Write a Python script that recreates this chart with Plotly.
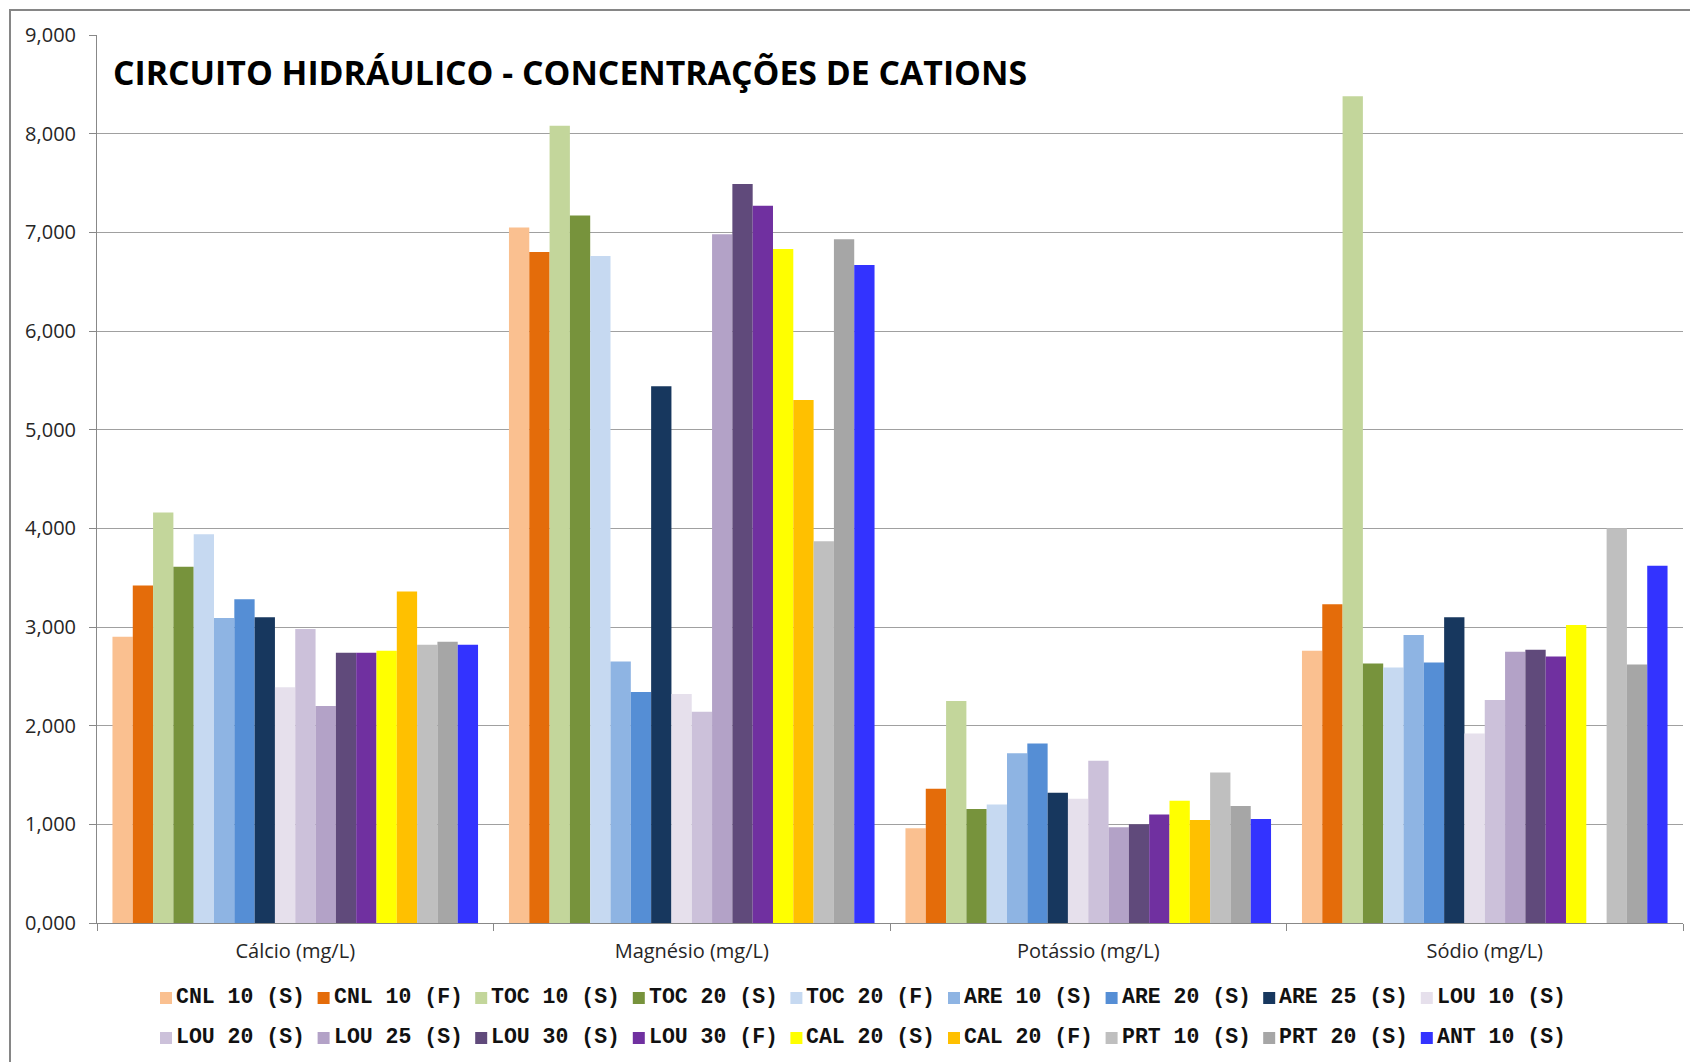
import plotly.graph_objects as go

# Cation concentrations (mg/L) per sampling point, one list per cation
categorias = ["Cálcio (mg/L)", "Magnésio (mg/L)", "Potássio (mg/L)", "Sódio (mg/L)"]

series = [
    "CNL 10 (S)", "CNL 10 (F)", "TOC 10 (S)", "TOC 20 (S)", "TOC 20 (F)",
    "ARE 10 (S)", "ARE 20 (S)", "ARE 25 (S)", "LOU 10 (S)",
    "LOU 20 (S)", "LOU 25 (S)", "LOU 30 (S)", "LOU 30 (F)", "CAL 20 (S)",
    "CAL 20 (F)", "PRT 10 (S)", "PRT 20 (S)", "ANT 10 (S)",
]

calcio = [2.90, 3.42, 4.16, 3.61, 3.94, 3.09, 3.28, 3.10, 2.39,
          2.98, 2.20, 2.74, 2.74, 2.76, 3.36, 2.82, 2.85, 2.82]
magnesio = [7.05, 6.80, 8.08, 7.17, 6.76, 2.65, 2.34, 5.44, 2.32,
            2.14, 6.98, 7.49, 7.27, 6.83, 5.30, 3.87, 6.93, 6.67]
potassio = [0.96, 1.36, 2.25, 1.155, 1.20, 1.72, 1.82, 1.32, 1.26,
            1.645, 0.97, 1.00, 1.10, 1.24, 1.045, 1.525, 1.185, 1.055]
sodio = [2.76, 3.23, 8.38, 2.63, 2.59, 2.92, 2.64, 3.10, 1.92,
         2.26, 2.75, 2.77, 2.70, 3.02, None, 4.00, 2.62, 3.62]

cores = [
    "#FAC090", "#E46C0A", "#C3D69B", "#77933C", "#C6D9F1",
    "#8EB4E3", "#558ED5", "#17375E", "#E6E0EC",
    "#CCC1DA", "#B3A2C7", "#604A7B", "#7030A0", "#FFFF00",
    "#FFC000", "#BFBFBF", "#A6A6A6", "#3333FF",
]

eixo_y_ticks = [0, 1, 2, 3, 4, 5, 6, 7, 8, 9]

# Figure geometry (pixels)
W, H = 1690, 1062
ML, MR, MT, MB = 97, 7, 35, 139
PW, PH = W - ML - MR, H - MT - MB


def px_x(x):
    return (x - ML) / PW


def px_y(y):
    return (H - MB - y) / PH


fig = go.Figure()
for i, nome in enumerate(series):
    fig.add_trace(go.Bar(
        name=nome,
        x=categorias,
        y=[calcio[i], magnesio[i], potassio[i], sodio[i]],
        marker=dict(color=cores[i], line=dict(width=0)),
        showlegend=False,
    ))

# Legend drawn as two rows of swatches and monospace labels
shapes = []
annotations = []
x_start, pitch = 160, 157.6
row_y = [997, 1037]
for i, nome in enumerate(series):
    row, col = divmod(i, 9)
    x0 = x_start + col * pitch
    yc = row_y[row]
    shapes.append(dict(
        type="rect", xref="paper", yref="paper",
        x0=px_x(x0), x1=px_x(x0 + 12),
        y0=px_y(yc + 7), y1=px_y(yc - 5),
        fillcolor=cores[i], line=dict(width=0),
    ))
    annotations.append(dict(
        text="<b>" + nome + "</b>", xref="paper", yref="paper",
        x=px_x(x0 + 14), y=px_y(yc), xanchor="left", yanchor="middle",
        showarrow=False,
        font=dict(family="Liberation Mono, Courier New, monospace", size=21.5, color="#111111"),
    ))

# Outer chart frame
shapes.append(dict(
    type="rect", xref="paper", yref="paper", layer="below",
    x0=px_x(10), x1=px_x(W + 20), y0=px_y(10), y1=px_y(H + 20),
    line=dict(color="#868686", width=2), fillcolor="rgba(0,0,0,0)",
))

annotations.append(dict(
    text="<b>CIRCUITO HIDRÁULICO - CONCENTRAÇÕES DE CATIONS</b>",
    xref="paper", yref="paper", x=px_x(111), y=px_y(72),
    xanchor="left", yanchor="middle", showarrow=False,
    font=dict(family="Open Sans, sans-serif", size=33.8, color="#000000"),
))

fig.update_layout(
    width=W, height=H, autosize=False,
    margin=dict(l=ML, r=MR, t=MT, b=MB, pad=0),
    paper_bgcolor="white", plot_bgcolor="white",
    barmode="group", bargap=0.078, bargroupgap=0,
    separators=",.",
    font=dict(family="Open Sans, sans-serif", color="#262626"),
    shapes=shapes, annotations=annotations,
    showlegend=False,
)
fig.update_xaxes(
    type="category", showgrid=False, showline=True, linecolor="#888888", linewidth=1,
    ticks="outside", tickson="boundaries", ticklen=7, tickcolor="#888888",
    tickfont=dict(size=20, color="#262626"), ticklabelstandoff=10,
)
fig.update_yaxes(
    range=[0, 9], tickvals=eixo_y_ticks, tickformat=".3f",
    showgrid=True, gridcolor="#a0a0a0", gridwidth=1,
    showline=True, linecolor="#888888", linewidth=1, zeroline=False,
    ticks="outside", ticklen=7, tickcolor="#888888",
    tickfont=dict(size=20, color="#262626"), ticklabelstandoff=9,
)

fig.write_html("out.html")
